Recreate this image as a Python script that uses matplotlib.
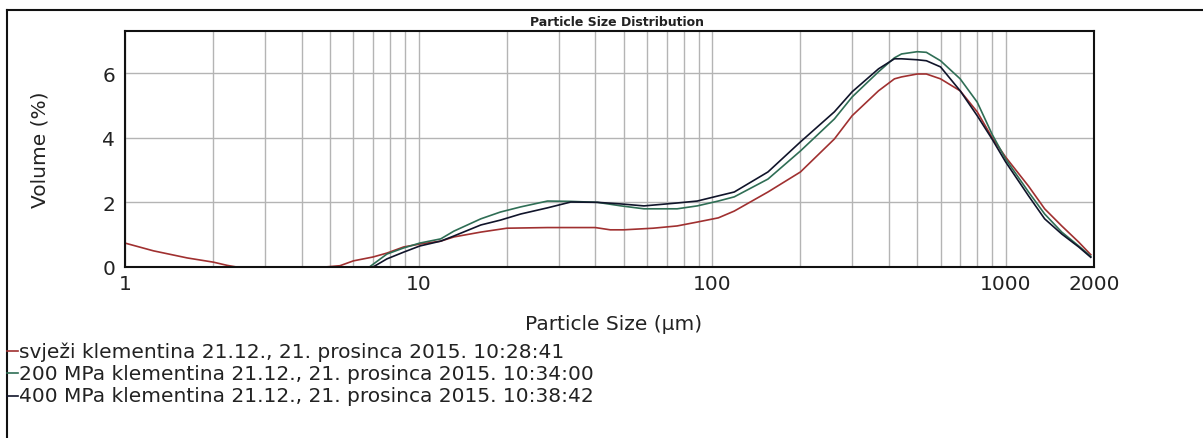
import matplotlib
matplotlib.use("Agg")
import matplotlib.pyplot as plt
from matplotlib.ticker import LogLocator, NullFormatter
from matplotlib.lines import Line2D

# ---------------- data ----------------
red_x = [1, 1.25, 1.63, 2.0, 2.23, 2.4, 3, 4, 4.8, 5.4, 6.0, 7.0, 7.8, 8.9, 10.1, 11.9,
         13.2, 16.3, 20, 27.5, 40, 45, 50, 63, 76, 89, 105, 119, 155, 200, 261, 300,
         369, 418, 442, 500, 537, 600, 700, 800, 900, 1000, 1197, 1358, 1553, 1774, 1950]
red_y = [0.74, 0.5, 0.28, 0.15, 0.05, 0, 0, 0, 0, 0.04, 0.19, 0.31, 0.43, 0.62, 0.71, 0.8,
         0.93, 1.08, 1.2, 1.22, 1.22, 1.15, 1.15, 1.2, 1.27, 1.39, 1.52, 1.73, 2.32, 2.94, 3.96, 4.68,
         5.45, 5.82, 5.88, 5.97, 5.97, 5.82, 5.45, 4.8, 4.0, 3.4, 2.5, 1.8, 1.27, 0.77, 0.38]

green_x = [6.8, 7.8, 8.9, 10.1, 11.9, 13.2, 16.3, 19, 22.3, 27.5, 33, 40.7, 49, 58.6, 76, 89,
           105, 119, 155, 200, 261, 300, 369, 418, 442, 500, 537, 600, 700, 800, 900, 1000,
           1197, 1358, 1553, 1774, 1950]
green_y = [0, 0.40, 0.59, 0.74, 0.87, 1.11, 1.49, 1.70, 1.86, 2.04, 2.03, 2.0, 1.89, 1.8, 1.8, 1.89,
           2.04, 2.17, 2.72, 3.59, 4.58, 5.26, 6.04, 6.47, 6.59, 6.66, 6.64, 6.38, 5.82, 5.1, 4.1, 3.34,
           2.32, 1.64, 1.08, 0.65, 0.33]

black_x = [7.0, 7.8, 8.9, 10.1, 11.9, 13.2, 16.3, 19, 22.3, 27.5, 33, 40.7, 49, 58.6, 76, 89,
           105, 119, 155, 200, 261, 300, 369, 418, 442, 500, 537, 600, 700, 800, 900, 1000,
           1197, 1358, 1553, 1774, 1950]
black_y = [0, 0.25, 0.46, 0.65, 0.8, 0.96, 1.30, 1.45, 1.64, 1.83, 2.01, 2.0, 1.95, 1.89, 1.98, 2.04,
           2.2, 2.32, 2.94, 3.87, 4.8, 5.42, 6.13, 6.44, 6.44, 6.41, 6.38, 6.19, 5.45, 4.68, 3.95, 3.25,
           2.2, 1.49, 1.02, 0.62, 0.3]

series_labels = ["svježi klementina 21.12., 21. prosinca 2015. 10:28:41",
                 "200 MPa klementina 21.12., 21. prosinca 2015. 10:34:00",
                 "400 MPa klementina 21.12., 21. prosinca 2015. 10:38:42"]
series_colors = ["#a03030", "#2f6e55", "#10142a"]

x_ticks = [1, 10, 100, 1000, 2000]
x_tick_labels = ["1", "10", "100", "1000", "2000"]
y_ticks = [0, 2, 4, 6]
y_tick_labels = ["0", "2", "4", "6"]

# ---------------- figure ----------------
W, H = 1203, 439
fig = plt.figure(figsize=(W / 100, H / 100), dpi=100)
fig.patch.set_facecolor("white")

def fx(px):
    return px / W

def fy(py):
    return 1 - py / H

L, R, T, B = 125, 1094, 32, 268
ax = fig.add_axes([fx(L), fy(B), fx(R) - fx(L), fy(T) - fy(B)])
ax.set_xscale("log")
ax.set_xlim(1, 2000)
ax.set_ylim(0, 7.3)

FS = 14.5
TXT = "#222222"

# grid
ax.xaxis.set_minor_locator(LogLocator(base=10, subs=[2, 3, 4, 5, 6, 7, 8, 9], numticks=20))
ax.xaxis.set_minor_formatter(NullFormatter())
ax.set_xticks(x_ticks)
ax.set_xticklabels(x_tick_labels)
ax.set_yticks(y_ticks)
ax.set_yticklabels(y_tick_labels)
ax.grid(True, which="both", axis="x", color="#b4b4b4", lw=1.0)
ax.grid(True, which="major", axis="y", color="#b4b4b4", lw=1.0)
ax.set_axisbelow(True)
ax.tick_params(which="both", length=0)
ax.tick_params(axis="x", pad=5, labelsize=FS, colors=TXT)
ax.tick_params(axis="y", pad=7, labelsize=FS, colors=TXT)
for s in ax.spines.values():
    s.set_color("#111111")
    s.set_linewidth(1.5)

for xs, ys, c in zip([red_x, green_x, black_x], [red_y, green_y, black_y], series_colors):
    ax.plot(xs, ys, color=c, lw=1.2, clip_on=True)

ax.set_xlabel("Particle Size (µm)", fontsize=FS, color=TXT)
ax.xaxis.set_label_coords((614 - L) / (R - L), (B - 325) / (B - T))
ax.xaxis.label.set_va("center")
ax.set_ylabel("Volume (%)", fontsize=FS, color=TXT)
ax.yaxis.set_label_coords((40 - L) / (R - L), (B - 150) / (B - T))
ax.yaxis.label.set_va("center")

# title
fig.text(fx(617), fy(22), "Particle Size Distribution", ha="center", va="center",
         fontsize=9, fontweight="bold", color=TXT)

# outer frame
fig.add_artist(Line2D([fx(7), 1.0], [fy(11), fy(11)], color="#111111", lw=1.5))
fig.add_artist(Line2D([fx(7), fx(7)], [fy(11), 0.0], color="#111111", lw=1.5))

# legend
for i, (lab, c) in enumerate(zip(series_labels, series_colors)):
    yy = [352, 374, 397][i]
    fig.add_artist(Line2D([fx(7), fx(18)], [fy(yy), fy(yy)], color=c, lw=1.2))
    fig.text(fx(19), fy(yy), lab, ha="left", va="center", fontsize=FS, color=TXT)

fig.savefig("out.png", dpi=100)
